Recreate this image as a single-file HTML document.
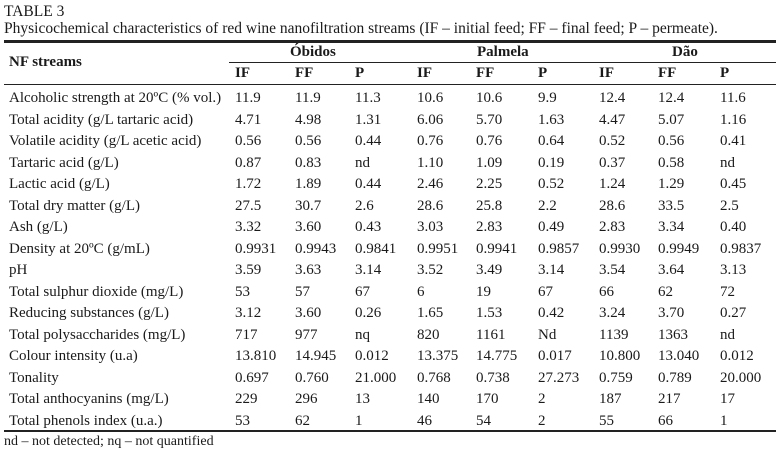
<!DOCTYPE html>
<html><head><meta charset="utf-8"><style>
body{margin:0;background:#fff;width:778px;height:461px;overflow:hidden;position:relative;font-family:"Liberation Serif",serif;color:#1a1a1a}
.t{position:absolute;left:4px;font-size:15px;white-space:nowrap}
table{position:absolute;left:4px;top:88px;border-collapse:collapse;table-layout:fixed;width:772px;font-size:15px}
td{padding:0 0 0 4px;height:21.5px;line-height:21.5px;white-space:nowrap}
td:first-child{padding-left:5px}
.ln{position:absolute;background:#222}
.h{position:absolute;font-weight:bold;font-size:15px}
</style></head><body>
<div class="t" style="top:3px;font-size:15.5px">TABLE 3</div>
<div class="t" style="top:20px;font-size:15.5px">Physicochemical characteristics of red wine nanofiltration streams (IF – initial feed; FF – final feed; P – permeate).</div>
<div class="ln" style="left:4px;top:40px;width:772px;height:3px"></div>
<div class="ln" style="left:229px;top:62px;width:547px;height:1px"></div>
<div class="ln" style="left:4px;top:84px;width:772px;height:1px"></div>
<div class="h" style="left:9px;top:54px">NF streams</div>
<div class="h" style="left:290px;top:44px">Óbidos</div>
<div class="h" style="left:477px;top:44px">Palmela</div>
<div class="h" style="left:672px;top:44px">Dão</div>
<div class="h" style="left:235px;top:65px">IF</div>
<div class="h" style="left:295px;top:65px">FF</div>
<div class="h" style="left:355px;top:65px">P</div>
<div class="h" style="left:417px;top:65px">IF</div>
<div class="h" style="left:476px;top:65px">FF</div>
<div class="h" style="left:538px;top:65px">P</div>
<div class="h" style="left:599px;top:65px">IF</div>
<div class="h" style="left:658px;top:65px">FF</div>
<div class="h" style="left:720px;top:65px">P</div>
<table>
<colgroup><col style="width:227px"><col style="width:60px"><col style="width:60px"><col style="width:62px"><col style="width:59px"><col style="width:62px"><col style="width:61px"><col style="width:59px"><col style="width:62px"><col style="width:60px"></colgroup>
<tr><td>Alcoholic strength at 20ºC (% vol.)</td><td>11.9</td><td>11.9</td><td>11.3</td><td>10.6</td><td>10.6</td><td>9.9</td><td>12.4</td><td>12.4</td><td>11.6</td></tr>
<tr><td>Total acidity (g/L tartaric acid)</td><td>4.71</td><td>4.98</td><td>1.31</td><td>6.06</td><td>5.70</td><td>1.63</td><td>4.47</td><td>5.07</td><td>1.16</td></tr>
<tr><td>Volatile acidity (g/L acetic acid)</td><td>0.56</td><td>0.56</td><td>0.44</td><td>0.76</td><td>0.76</td><td>0.64</td><td>0.52</td><td>0.56</td><td>0.41</td></tr>
<tr><td>Tartaric acid (g/L)</td><td>0.87</td><td>0.83</td><td>nd</td><td>1.10</td><td>1.09</td><td>0.19</td><td>0.37</td><td>0.58</td><td>nd</td></tr>
<tr><td>Lactic acid (g/L)</td><td>1.72</td><td>1.89</td><td>0.44</td><td>2.46</td><td>2.25</td><td>0.52</td><td>1.24</td><td>1.29</td><td>0.45</td></tr>
<tr><td>Total dry matter (g/L)</td><td>27.5</td><td>30.7</td><td>2.6</td><td>28.6</td><td>25.8</td><td>2.2</td><td>28.6</td><td>33.5</td><td>2.5</td></tr>
<tr><td>Ash (g/L)</td><td>3.32</td><td>3.60</td><td>0.43</td><td>3.03</td><td>2.83</td><td>0.49</td><td>2.83</td><td>3.34</td><td>0.40</td></tr>
<tr><td>Density at 20ºC (g/mL)</td><td>0.9931</td><td>0.9943</td><td>0.9841</td><td>0.9951</td><td>0.9941</td><td>0.9857</td><td>0.9930</td><td>0.9949</td><td>0.9837</td></tr>
<tr><td>pH</td><td>3.59</td><td>3.63</td><td>3.14</td><td>3.52</td><td>3.49</td><td>3.14</td><td>3.54</td><td>3.64</td><td>3.13</td></tr>
<tr><td>Total sulphur dioxide (mg/L)</td><td>53</td><td>57</td><td>67</td><td>6</td><td>19</td><td>67</td><td>66</td><td>62</td><td>72</td></tr>
<tr><td>Reducing substances (g/L)</td><td>3.12</td><td>3.60</td><td>0.26</td><td>1.65</td><td>1.53</td><td>0.42</td><td>3.24</td><td>3.70</td><td>0.27</td></tr>
<tr><td>Total polysaccharides (mg/L)</td><td>717</td><td>977</td><td>nq</td><td>820</td><td>1161</td><td>Nd</td><td>1139</td><td>1363</td><td>nd</td></tr>
<tr><td>Colour intensity (u.a)</td><td>13.810</td><td>14.945</td><td>0.012</td><td>13.375</td><td>14.775</td><td>0.017</td><td>10.800</td><td>13.040</td><td>0.012</td></tr>
<tr><td>Tonality</td><td>0.697</td><td>0.760</td><td>21.000</td><td>0.768</td><td>0.738</td><td>27.273</td><td>0.759</td><td>0.789</td><td>20.000</td></tr>
<tr><td>Total anthocyanins (mg/L)</td><td>229</td><td>296</td><td>13</td><td>140</td><td>170</td><td>2</td><td>187</td><td>217</td><td>17</td></tr>
<tr><td>Total phenols index (u.a.)</td><td>53</td><td>62</td><td>1</td><td>46</td><td>54</td><td>2</td><td>55</td><td>66</td><td>1</td></tr>
</table>
<div class="ln" style="left:4px;top:430px;width:772px;height:2px"></div>
<div class="t" style="top:434px;font-size:14px">nd – not detected; nq – not quantified</div>
</body></html>
